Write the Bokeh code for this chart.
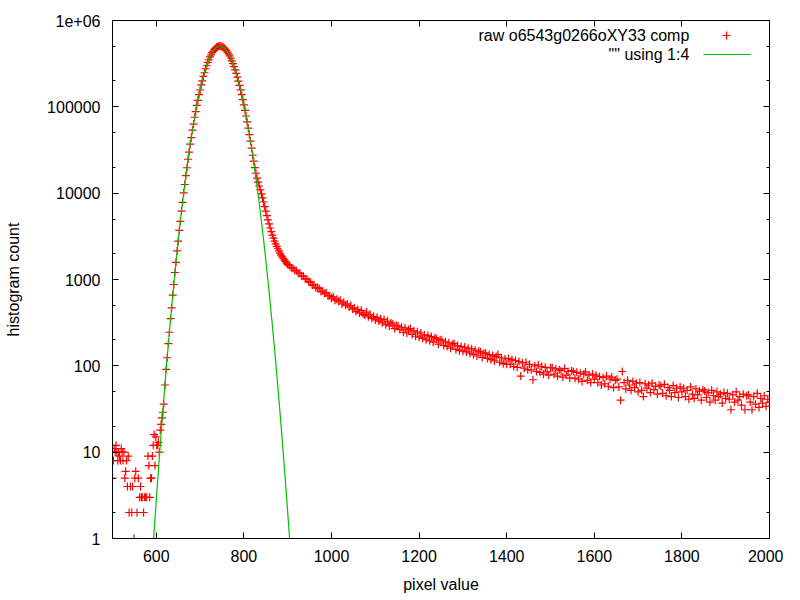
import numpy as np
from bokeh.plotting import figure
from bokeh.models import (Range1d, FixedTicker, LinearAxis,
                          LogAxis, CustomJSTickFormatter, Label)
from bokeh.embed import file_html
from bokeh.resources import INLINE

# ---------------- data ----------------
# noisy low-count bins at the left edge
noise_x = [500, 502, 504, 506, 508, 510, 512, 514, 516, 518,
           520, 522, 524, 526, 528, 530, 532, 534, 536, 538,
           541, 544, 546, 549, 551, 553, 556, 559, 562, 564,
           566, 568, 571, 573, 576, 578, 581, 583, 585, 587,
           589, 591, 593, 595, 597, 599, 601, 603, 605, 607,
           609, 611, 613, 615, 617]
noise_y = [5, 8, 11, 10, 12, 10, 8, 10, 9, 8,
           11, 10, 8, 10, 5, 6, 8, 4, 9, 2,
           4, 2, 4, 1, 5, 6, 2, 5, 3, 4,
           3, 3, 2, 3, 3, 3, 9, 7, 3, 5,
           5, 9, 12, 16, 7, 15, 12, 12, 13, 10,
           18, 21, 25, 29, 36]

# main peak, bins 620 .. 900 every 2.5
peak_x = list(np.arange(620, 900.01, 2.5))
peak_y = [60, 91, 124, 181, 245, 352, 470, 660, 875, 1205,
          1580, 2140, 2780, 3700, 4720, 6200, 7830, 10100, 12600, 16000,
          19700, 24700, 29900, 36900, 44100, 53600, 63200, 75700, 88100, 104000,
          119000, 138500, 156600, 179200, 200000, 225500, 248300, 276100, 299200, 328000,
          351000, 378200, 399500, 424000, 442200, 462500, 475300, 489500, 497000, 504000,
          506000,
          503000, 498200, 490200, 479200, 465500, 449200, 430600, 410400, 388400, 365200,
          341400, 316800, 292200, 267700, 243800, 220500, 198200, 177000, 157000, 138400,
          121200, 105500, 91200, 78300, 66900, 56700, 47760, 40000, 33250, 27480,
          23500, 19800, 17000, 14900, 13400, 12100, 10900, 9800, 8800, 7900,
          7000, 6200, 5500, 4900, 4400, 3950, 3580, 3270, 3010, 2790,
          2590, 2420, 2270, 2140, 2020, 1920, 1830, 1750, 1680, 1610,
          1550, 1490]

# long tail, bins 904 .. 2000 every 4
tail_x = list(range(904, 2001, 4))
tail_y = [1450, 1370, 1350, 1280, 1260, 1190, 1175, 1100, 1090, 1020, 1010, 950,
          925, 860, 870, 800, 810, 785, 725, 735, 690, 700, 645, 650, 610,
          630, 575, 590, 560, 575, 520, 545, 505, 520, 480, 500, 455,
          470, 425, 450, 410, 440, 395, 385, 420, 370, 395, 355, 375, 340,
          365, 330, 350, 315, 345, 300, 330, 290, 315, 305, 270, 295,
          290, 262, 280, 245, 275, 240, 262, 270, 232, 255, 220, 248, 215,
          240, 208, 228, 200, 225, 195, 218, 188, 212, 205, 178, 200,
          198, 172, 190, 168, 185, 160, 178, 182, 155, 172, 150, 168, 148,
          165, 145, 160, 140, 158, 135, 152, 130, 148, 145, 125, 140,
          140, 122, 135, 118, 132, 114, 128, 135, 110, 124, 106, 120, 104,
          122, 104, 118, 98, 115, 96, 112, 76, 108, 94, 110, 90,
          104, 90, 69, 100, 86, 103, 84, 98, 80, 96, 85, 78, 95,
          95, 80, 92, 76, 90, 88, 74, 93, 78, 86, 72, 88,
          86, 72, 84, 70, 82, 66, 80, 85, 68, 78, 64, 80, 70,
          78, 64, 75, 60, 73, 62, 76, 58, 70, 74, 56, 68,
          70, 57, 40, 86, 64, 54, 68, 60, 52, 66, 56, 63, 50,
          64, 52, 44, 62, 55, 60, 49, 63, 53, 58, 47, 60,
          58, 48, 61, 45, 56, 52, 44, 59, 49, 55, 43, 57, 50,
          55, 44, 52, 41, 57, 47, 42, 54, 46, 51, 40, 53,
          51, 43, 49, 38, 52, 45, 40, 50, 44, 47, 37, 49, 42,
          48, 41, 31, 46, 38, 50, 40, 44, 35, 47, 31, 45,
          46, 38, 31, 44, 36, 48, 33, 42, 37, 45, 34, 41, 38]

# fitted curve ("" using 1:4), bins 590 .. 907.5 every 2.5
fit_x = list(np.arange(590, 907.51, 2.5))
fit_y = [0.50, 0.77, 1.2, 1.84, 2.8, 4.23, 6.35, 9.5, 14.0, 20.6, 30.1, 43.5, 62.7,
         89, 127, 178, 249, 346, 476, 652, 885, 1191, 1596,
         2120, 2800, 3660, 4760, 6150, 7890, 10030, 12680, 15890, 19800,
         24500, 30060, 36640, 44360, 53200, 63500, 75200, 88500, 103300, 119700,
         137700, 157400, 178300, 201000, 224400, 249500, 274800, 300600, 326600, 352400,
         376700, 400900, 422800, 443500, 461300, 476400, 488600, 497700, 503200, 505000,
         503000, 498200, 490200, 479200, 465500, 449200, 430600, 410400, 388400, 365200,
         341400, 316800, 292200, 267700, 243800, 220500, 198200, 177000, 157000, 138400,
         121200, 105500, 91200, 78300, 66900, 56700, 47760, 40000, 33250, 27480,
         22560, 18400, 14910, 12010, 9610, 7640, 6030, 4730, 3690, 2860,
         2200, 1680, 1277, 964, 723, 538, 399, 293, 214, 155.5,
         112, 80.4, 57.2, 40.5, 28.5, 19.9, 13.8, 9.5, 6.5, 4.43,
         3.0, 2.01, 1.34, 0.89, 0.59]

x_ticks = [600, 800, 1000, 1200, 1400, 1600, 1800, 2000]
y_ticks = [1, 10, 100, 1000, 10000, 100000, 1000000]
y_minor = [2, 5, 20, 50, 200, 500, 2000, 5000, 20000, 50000, 200000, 500000]

raw_label = "raw o6543g0266oXY33 comp"
fit_label = '"" using 1:4'

# ---------------- styles ----------------
FONT = "Liberation Sans"
FS = "16px"
RED = "#ff0000"
GREEN = "#00c000"

raw_x = noise_x + [float(v) for v in peak_x] + tail_x
raw_y = noise_y + peak_y + tail_y
n = min(len(raw_x), len(raw_y))
raw_x, raw_y = raw_x[:n], raw_y[:n]
m = min(len(fit_x), len(fit_y))
fit_x, fit_y = [float(v) for v in fit_x[:m]], fit_y[:m]

p = figure(frame_width=657, frame_height=518,
           x_range=Range1d(500, 2000), y_range=Range1d(1, 1e6),
           y_axis_type="log", output_backend="svg", toolbar_location=None,
           min_border_left=112, min_border_right=14, min_border_top=20,
           min_border_bottom=44)
p.background_fill_color = "white"
p.border_fill_color = "white"
p.outline_line_color = "black"
p.outline_line_width = 1
p.xgrid.visible = False
p.ygrid.visible = False

xt = FixedTicker(ticks=x_ticks, minor_ticks=[])
yt = FixedTicker(ticks=y_ticks, minor_ticks=y_minor)

xa = p.xaxis[0]
ya = p.yaxis[0]
xa.ticker = xt
ya.ticker = yt
ya.formatter = CustomJSTickFormatter(
    code="return tick >= 999999 ? '1e+06' : tick.toFixed(0);")

for ax in (xa, ya):
    ax.axis_line_color = "black"
    ax.major_tick_in = 6
    ax.major_tick_out = 0
    ax.minor_tick_in = 3
    ax.minor_tick_out = 0
    ax.major_tick_line_color = "black"
    ax.minor_tick_line_color = "black"
    ax.major_label_text_font = FONT
    ax.major_label_text_font_size = FS
    ax.major_label_text_color = "black"
    ax.axis_label_text_font = FONT
    ax.axis_label_text_font_size = FS
    ax.axis_label_text_font_style = "normal"
    ax.axis_label_text_color = "black"

xa.axis_label = "pixel value"
xa.major_label_standoff = 11
xa.axis_label_standoff = 11
ya.axis_label = "histogram count"
ya.major_label_standoff = 12
ya.axis_label_standoff = 22

blank = CustomJSTickFormatter(code="return '';")
top = LinearAxis(ticker=xt, formatter=blank, major_tick_in=6, major_tick_out=0,
                 minor_tick_in=0, minor_tick_out=0, major_label_standoff=0,
                 axis_line_color="black", major_label_text_font_size="1px")
right = LogAxis(ticker=yt, formatter=blank, major_tick_in=6, major_tick_out=0,
                minor_tick_in=3, minor_tick_out=0, major_label_standoff=0,
                axis_line_color="black", major_label_text_font_size="1px")
p.add_layout(top, "above")
p.add_layout(right, "right")

# raw histogram, then the fitted curve on top
p.scatter(raw_x, raw_y, marker="cross", size=8, line_color=RED, line_width=1.2)
p.line(fit_x, fit_y, line_color=GREEN, line_width=1.2)

# gnuplot style key (text left of the sample), top right
KEY_TEXT_X = 1817
KEY_Y1 = 6.7e5
KEY_Y2 = 4.04e5
KEY_MARK_X = 1902
KEY_LINE_X0, KEY_LINE_X1 = 1849, 1957
for txt, yy in ((raw_label, KEY_Y1), (fit_label, KEY_Y2)):
    p.add_layout(Label(x=KEY_TEXT_X, y=yy, text=txt, text_align="right",
                       text_baseline="middle", text_font=FONT,
                       text_font_size=FS, text_color="black"))
p.scatter([KEY_MARK_X], [KEY_Y1], marker="cross", size=8,
          line_color=RED, line_width=1.2)
p.line([KEY_LINE_X0, KEY_LINE_X1], [KEY_Y2, KEY_Y2], line_color=GREEN,
       line_width=1.2)

open("out.html", "w").write(file_html(p, INLINE))
